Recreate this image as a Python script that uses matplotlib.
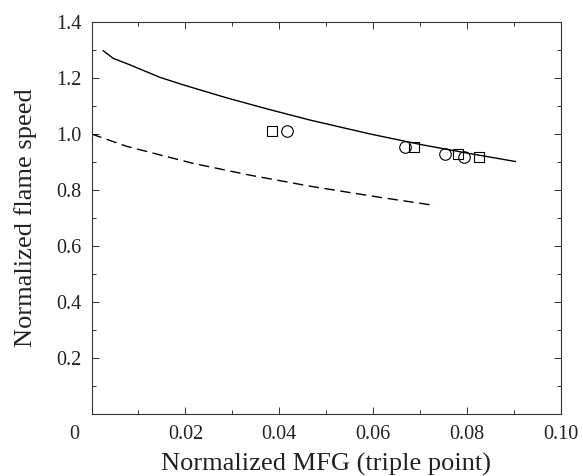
import matplotlib
matplotlib.use("Agg")
import matplotlib.pyplot as plt
import matplotlib.transforms as mtransforms
from matplotlib.ticker import MultipleLocator

# Solid curve (model)
solid_x = [0.0025, 0.0046, 0.008, 0.0146, 0.02, 0.0288, 0.0373, 0.0465, 0.0594, 0.070, 0.080, 0.0903]
solid_y = [1.297, 1.270, 1.248, 1.202, 1.173, 1.129, 1.090, 1.050, 1.000, 0.963, 0.932, 0.902]

# Dashed curve
dash_x = [0.0, 0.0075, 0.0217, 0.0338, 0.0465, 0.0615, 0.0732]
dash_y = [1.0, 0.956, 0.895, 0.853, 0.814, 0.774, 0.745]

# Square markers
sq_x = [0.0384, 0.0688, 0.0781, 0.0826]
sq_y = [1.011, 0.953, 0.929, 0.917]

# Circle markers
ci_x = [0.0416, 0.0668, 0.0753, 0.0794]
ci_y = [1.010, 0.953, 0.929, 0.917]

x_ticks = [0, 0.02, 0.04, 0.06, 0.08, 0.10]
x_labels = ["0", "0.02", "0.04", "0.06", "0.08", "0.10"]
y_ticks = [0.2, 0.4, 0.6, 0.8, 1.0, 1.2, 1.4]
y_labels = ["0.2", "0.4", "0.6", "0.8", "1.0", "1.2", "1.4"]

plt.rcParams['font.family'] = ['Liberation Serif', 'DejaVu Serif']

fig = plt.figure(figsize=(5.83, 4.76), dpi=100)
ax = fig.add_axes([0.157, 0.1296, 0.805, 0.8244])

ax.plot(solid_x, solid_y, color='black', lw=1.0)
ax.plot(dash_x, dash_y, color='black', lw=1.0, dashes=(7.5, 4))
ax.plot(sq_x, sq_y, linestyle='none', marker='s', markersize=6.8,
        markerfacecolor='none', markeredgecolor='black', markeredgewidth=0.8)
ax.plot(ci_x, ci_y, linestyle='none', marker='o', markersize=8.3,
        markerfacecolor='none', markeredgecolor='black', markeredgewidth=0.8)

ax.set_xlim(0, 0.10)
ax.set_ylim(0, 1.4)
ax.set_xticks(x_ticks)
ax.set_xticklabels(x_labels)
ax.set_yticks(y_ticks)
ax.set_yticklabels(y_labels)
ax.xaxis.set_minor_locator(MultipleLocator(0.01))
ax.yaxis.set_minor_locator(MultipleLocator(0.1))

ax.tick_params(which='both', direction='in', top=True, right=True, width=0.7, colors='#333333')
ax.tick_params(which='major', length=5)
ax.tick_params(which='minor', length=3)
ax.tick_params(axis='x', which='major', labelsize=14.5, pad=8, labelcolor='#222222')
ax.tick_params(axis='y', which='major', labelsize=14.5, pad=7, labelcolor='#222222')

for s in ax.spines.values():
    s.set_linewidth(0.8)
    s.set_color('#333333')

# shift the "0" corner label to the left
lbl0 = ax.get_xticklabels()[0]
lbl0.set_transform(lbl0.get_transform() + mtransforms.ScaledTranslation(-17/100, 0, fig.dpi_scale_trans))

ax.set_xlabel("Normalized MFG (triple point)", fontsize=19, color='#222222', labelpad=6)
ax.set_ylabel("Normalized flame speed", fontsize=19, color='#222222', labelpad=14)

fig.savefig("out.png", dpi=100)
